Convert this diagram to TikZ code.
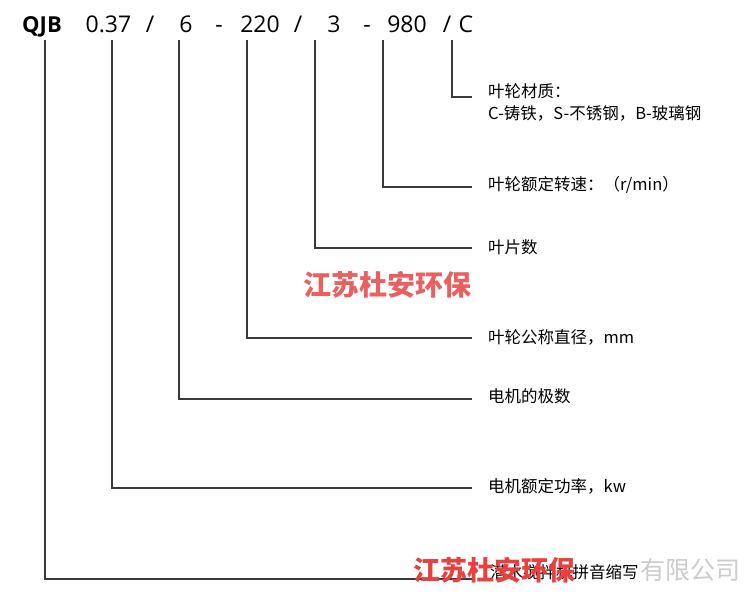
\documentclass[tikz,border=0pt]{standalone}
\usepackage{fontspec}
\setmainfont{Open Sans}
\newfontfamily\cjk{Noto Sans CJK SC}
\definecolor{leadgray}{HTML}{3A3A3A}
\definecolor{markred}{HTML}{E8605F}
\definecolor{stampred}{HTML}{E8403F}
\definecolor{fadegray}{HTML}{CCCCCC}

\begin{document}
\begin{tikzpicture}[x=1pt,y=-1pt,
        code/.style = {anchor=base, inner sep=0, font=\fontsize{23}{23}\selectfont},
        lead/.style = {draw=leadgray, line width=1.6pt},
        desc/.style = {anchor=west, inner sep=0, align=left, font=\cjk\fontsize{16.5}{22}\selectfont},
        stamp/.style = {inner sep=0, font=\cjk\bfseries\fontsize{28}{28}\selectfont}]
    \useasboundingbox (0,0) rectangle (750,596);
    % model code
    \node[code,font=\bfseries\fontsize{22}{22}\selectfont] (qjb) at (42,33) {QJB};
    \node[code] (pw) at (108.5,33) {0.37};
    \node[code] (s1) at (150,33) {/};
    \node[code] (pl) at (186,33) {6};
    \node[code] (d1) at (219,33) {-};
    \node[code] (dm) at (260,33) {220};
    \node[code] (s2) at (298,33) {/};
    \node[code] (bl) at (334,33) {3};
    \node[code] (d2) at (367,33) {-};
    \node[code] (rpm) at (407,33) {980};
    \node[code] (s3) at (447,33) {/};
    \node[code] (mat) at (466,33) {C};
    % meanings
    \node[desc] (lmat) at (488,102) {叶轮材质：\\C-铸铁，S-不锈钢，B-玻璃钢};
    \node[desc] (lrpm) at (488,185) {叶轮额定转速：（r/min）};
    \node[desc] (lbl) at (488,247) {叶片数};
    \node[desc] (ldm) at (488,337) {叶轮公称直径，mm};
    \node[desc] (lpl) at (488,396) {电机的极数};
    \node[desc] (lpw) at (488,486) {电机额定功率，kw};
    \node[font=\cjk\fontsize{25}{25}\selectfont,text=fadegray,inner sep=0] (co) at (690,570) {有限公司};
    \node[desc] (lqjb) at (490,572) {潜水搅拌机拼音缩写};
    % leaders
    \coordinate (tmat) at (452,40); \coordinate (emat) at (472,97);
    \coordinate (trpm) at (383,40); \coordinate (erpm) at (472,187);
    \coordinate (tbl) at (315,40);  \coordinate (ebl) at (472,248);
    \coordinate (tdm) at (247,40);  \coordinate (edm) at (472,338);
    \coordinate (tpl) at (179,40);  \coordinate (epl) at (472,399);
    \coordinate (tpw) at (112,40);  \coordinate (epw) at (472,488);
    \coordinate (tqjb) at (45,40);  \coordinate (eqjb) at (472,579);
    \draw[lead] (tmat) |- (emat);
    \draw[lead] (trpm) |- (erpm);
    \draw[lead] (tbl) |- (ebl);
    \draw[lead] (tdm) |- (edm);
    \draw[lead] (tpl) |- (epl);
    \draw[lead] (tpw) |- (epw);
    \draw[lead] (tqjb) |- (eqjb);
    % company marks
    \node[stamp,text=markred] (mk1) at (387,285) {江苏杜安环保};
    \node[stamp,text=stampred,font=\cjk\bfseries\fontsize{27}{27}\selectfont] (mk2) at (494,570) {江苏杜安环保};
\end{tikzpicture}
\end{document}
